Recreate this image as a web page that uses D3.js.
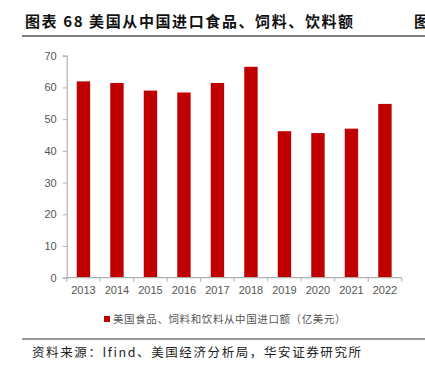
<!DOCTYPE html>
<html>
<head>
<meta charset="utf-8">
<script src="https://cdn.jsdelivr.net/npm/d3@7"></script>
<style>
  html, body { margin: 0; padding: 0; background: #fff; }
  svg { display: block; font-family: "Noto Sans CJK SC", "Noto Sans", sans-serif; }
</style>
</head>
<body>
<svg id="chart" width="425" height="368"></svg>
<script>
(function(){
const width = 425;
const height = 368;

// --- Data ---
const years = ["2013", "2014", "2015", "2016", "2017", "2018", "2019", "2020", "2021", "2022"];
const imports = [61.9, 61.4, 59.0, 58.4, 61.4, 66.5, 46.2, 45.6, 47.0, 54.8];
const yTicks = [0, 10, 20, 30, 40, 50, 60, 70];

const titleText = "图表 68 美国从中国进口食品、饲料、饮料额";
const legendText = "美国食品、饲料和饮料从中国进口额（亿美元）";
const sourceText = "资料来源：Ifind、美国经济分析局，华安证券研究所";

const svg = d3.select("#chart");

// --- Header / footer ---
svg.append("text")
  .attr("x", 25).attr("y", 27)
  .attr("font-size", 15).attr("font-weight", "bold")
  .attr("letter-spacing", 1.6)
  .attr("fill", "#111")
  .text(titleText);

// start of the neighbouring figure's title, cut by the page edge as in the source
svg.append("text")
  .attr("x", 414).attr("y", 27)
  .attr("font-size", 15).attr("font-weight", "bold")
  .attr("fill", "#111")
  .text("图");

svg.append("line")
  .attr("x1", 22).attr("x2", 425)
  .attr("y1", 36).attr("y2", 36)
  .attr("stroke", "#555").attr("stroke-width", 1.5);

svg.append("line")
  .attr("x1", 22).attr("x2", 425)
  .attr("y1", 339).attr("y2", 339)
  .attr("stroke", "#333").attr("stroke-width", 1);

svg.append("text")
  .attr("x", 32).attr("y", 357)
  .attr("font-size", 12.5)
  .attr("letter-spacing", 1.6)
  .attr("fill", "#222")
  .text(sourceText);

// --- Scales ---
const x = d3.scaleBand()
  .domain(years)
  .range([66.7, 401.7])
  .paddingInner(0.6)
  .paddingOuter(0.3);

const y = d3.scaleLinear()
  .domain([0, 70])
  .range([277.7, 55.7]);

const axisColor = "#b0b0b0";

// --- Bars ---
svg.append("g")
  .selectAll("rect")
  .data(imports)
  .enter()
  .append("rect")
  .attr("x", (d, i) => x(years[i]))
  .attr("y", d => y(d))
  .attr("width", x.bandwidth())
  .attr("height", d => y(0) - y(d))
  .attr("fill", "#c00000");

// --- Y axis ---
const yAxis = svg.append("g")
  .attr("transform", "translate(66.7,0)")
  .call(d3.axisLeft(y).tickValues(yTicks).tickSize(4).tickPadding(6));

// --- X axis (ticks at category boundaries) ---
const xAxis = svg.append("g")
  .attr("transform", `translate(0,${y(0)})`)
  .call(d3.axisBottom(x).tickSize(0).tickPadding(9));

const step = x.step();
xAxis.selectAll(".bound")
  .data(d3.range(years.length + 1))
  .enter()
  .append("line")
  .attr("class", "bound")
  .attr("x1", i => 66.7 + i * step)
  .attr("x2", i => 66.7 + i * step)
  .attr("y1", 0).attr("y2", 4)
  .attr("stroke", axisColor);

[yAxis, xAxis].forEach(g => {
  g.selectAll(".domain").attr("stroke", axisColor).attr("stroke-width", 1.2);
  g.selectAll(".tick line").attr("stroke", axisColor);
  g.selectAll("text")
    .attr("font-family", "Liberation Sans, Arial, sans-serif")
    .attr("font-size", 11)
    .attr("fill", "#555");
});
xAxis.select(".domain").attr("d", `M66.7,0H401.7`);

// --- Legend ---
const legend = svg.append("g").attr("transform", "translate(104,319)");
legend.append("rect")
  .attr("x", 0).attr("y", -3)
  .attr("width", 6).attr("height", 6)
  .attr("fill", "#c00000");
legend.append("text")
  .attr("x", 9).attr("y", 4)
  .attr("font-size", 10.5)
  .attr("letter-spacing", 0.6)
  .attr("fill", "#555")
  .text(legendText);
})();
</script>
</body>
</html>
